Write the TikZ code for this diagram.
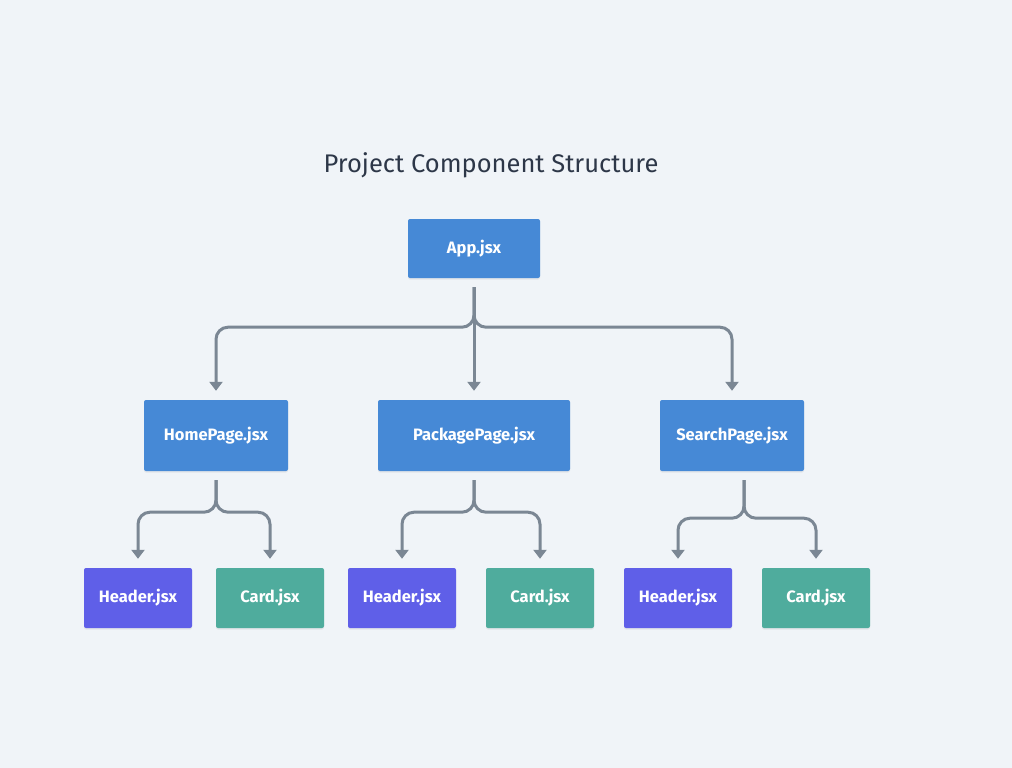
\documentclass[tikz,border=0pt]{standalone}
\usepackage{fontspec}
\setmainfont{Fira Sans}
\usetikzlibrary{arrows.meta,shadows}
\definecolor{bg}{HTML}{F0F4F8}
\definecolor{pageblue}{HTML}{4689D6}
\definecolor{headviolet}{HTML}{5F5FE8}
\definecolor{cardteal}{HTML}{4FAC9D}
\definecolor{linkgray}{HTML}{7B8794}
\definecolor{titleink}{HTML}{2D3748}
\begin{document}
\begin{tikzpicture}[x=1pt,y=-1pt,
    box/.style={fill=#1,text=white,rounded corners=2pt,inner sep=0pt,
        font=\fontsize{16.5}{19}\selectfont\bfseries,
        drop shadow={opacity=.12,shadow xshift=0pt,shadow yshift=-1.5pt}},
    leaf/.style={box=#1,minimum width=108pt,minimum height=60pt},
    link/.style={draw=linkgray,line width=3pt,rounded corners=12pt,
        shorten <=9pt,shorten >=9pt,-{Triangle[width=13pt,length=9pt]}}]
    \fill[bg] (0,0) rectangle (1012,768);
    \useasboundingbox (0,0) rectangle (1012,768);
    \node[text=titleink,font=\fontsize{25.5}{30}\selectfont] (title) at (491,165) {Project Component Structure};
    % pages
    \node[box=pageblue,minimum width=132pt,minimum height=59pt] (app) at (474,248.5) {App.jsx};
    \node[box=pageblue,minimum width=144pt,minimum height=71pt] (home) at (216,435.5) {HomePage.jsx};
    \node[box=pageblue,minimum width=192pt,minimum height=71pt] (pkg) at (474,435.5) {PackagePage.jsx};
    \node[box=pageblue,minimum width=144pt,minimum height=71pt] (search) at (732,435.5) {SearchPage.jsx};
    % components
    \node[leaf=headviolet] (head1) at (138,598) {Header.jsx};
    \node[leaf=cardteal] (card1) at (270,598) {Card.jsx};
    \node[leaf=headviolet] (head2) at (402,598) {Header.jsx};
    \node[leaf=cardteal] (card2) at (540,598) {Card.jsx};
    \node[leaf=headviolet] (head3) at (678,598) {Header.jsx};
    \node[leaf=cardteal] (card3) at (816,598) {Card.jsx};
    % links
    \draw[link] (app.south) -- ++(0,49) -| (home.north);
    \draw[link] (app.south) -- (pkg.north);
    \draw[link] (app.south) -- ++(0,49) -| (search.north);
    \draw[link] (home.south) -- ++(0,41) -| (head1.north);
    \draw[link] (home.south) -- ++(0,41) -| (card1.north);
    \draw[link] (pkg.south) -- ++(0,41) -| (head2.north);
    \draw[link] (pkg.south) -- ++(0,41) -| (card2.north);
    \draw[link] ([xshift=12pt]search.south) -- ++(0,47) -| (head3.north);
    \draw[link] ([xshift=12pt]search.south) -- ++(0,47) -| (card3.north);
\end{tikzpicture}
\end{document}
